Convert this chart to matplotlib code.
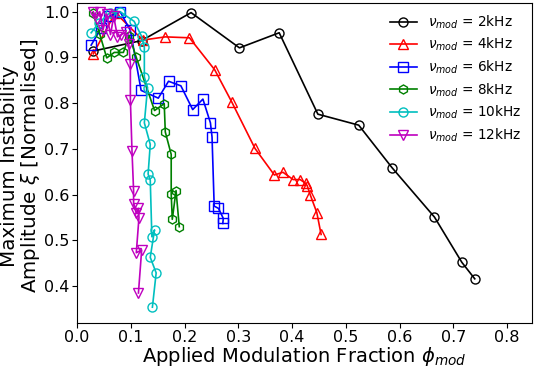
import matplotlib
matplotlib.use("Agg")
import matplotlib.pyplot as plt

# 2 kHz
x_2 = [0.030, 0.120, 0.212, 0.302, 0.376, 0.448, 0.524, 0.586, 0.665, 0.716, 0.740]
y_2 = [0.914, 0.937, 0.998, 0.921, 0.954, 0.776, 0.752, 0.659, 0.551, 0.452, 0.416]

# 4 kHz
x_4 = [0.030, 0.071, 0.122, 0.164, 0.209, 0.256, 0.288, 0.331, 0.367, 0.383, 0.402,
       0.415, 0.425, 0.428, 0.434, 0.446, 0.454]
y_4 = [0.908, 0.998, 0.938, 0.945, 0.943, 0.873, 0.802, 0.701, 0.643, 0.649, 0.633,
       0.633, 0.625, 0.620, 0.599, 0.561, 0.513]

# 6 kHz
x_6 = [0.026, 0.045, 0.060, 0.080, 0.099, 0.119, 0.151, 0.170, 0.193, 0.215, 0.234,
       0.248, 0.251, 0.255, 0.263, 0.272, 0.271]
y_6 = [0.927, 0.965, 0.990, 1.000, 0.959, 0.828, 0.811, 0.848, 0.838, 0.786, 0.809,
       0.757, 0.726, 0.575, 0.570, 0.548, 0.537]

# 8 kHz
x_8 = [0.029, 0.042, 0.055, 0.069, 0.086, 0.097, 0.110, 0.144, 0.162, 0.164, 0.175,
       0.175, 0.177, 0.184, 0.190]
y_8 = [0.998, 0.951, 0.899, 0.911, 0.911, 0.948, 0.900, 0.784, 0.799, 0.737, 0.688,
       0.601, 0.546, 0.609, 0.530]

# 10 kHz
x_10 = [0.026, 0.040, 0.061, 0.080, 0.106, 0.120, 0.125, 0.125, 0.131, 0.125, 0.136,
        0.132, 0.136, 0.139, 0.144, 0.136, 0.147, 0.140]
y_10 = [0.954, 0.975, 0.998, 1.000, 0.979, 0.946, 0.922, 0.857, 0.834, 0.757, 0.710,
        0.645, 0.632, 0.508, 0.523, 0.463, 0.429, 0.354]

# 12 kHz
x_12 = [0.030, 0.036, 0.042, 0.048, 0.055, 0.062, 0.068, 0.075, 0.082, 0.090, 0.096,
        0.099, 0.099, 0.102, 0.105, 0.105, 0.110, 0.114, 0.115, 0.110, 0.120, 0.114]
y_12 = [1.000, 0.985, 1.000, 0.960, 0.995, 0.950, 0.990, 0.945, 0.950, 0.955, 0.930,
        0.886, 0.808, 0.696, 0.609, 0.579, 0.559, 0.570, 0.550, 0.473, 0.479, 0.385]

series = [
    (x_2, y_2, 'k', 'o', r'$\nu_{mod}$ = 2kHz'),
    (x_4, y_4, 'r', '^', r'$\nu_{mod}$ = 4kHz'),
    (x_6, y_6, 'b', 's', r'$\nu_{mod}$ = 6kHz'),
    (x_8, y_8, 'g', 'h', r'$\nu_{mod}$ = 8kHz'),
    (x_10, y_10, 'c', 'o', r'$\nu_{mod}$ = 10kHz'),
    (x_12, y_12, 'm', 'v', r'$\nu_{mod}$ = 12kHz'),
]

fig, ax = plt.subplots(figsize=(5.36, 3.68), dpi=100)
for xs, ys, c, m, lab in series:
    ax.plot(xs, ys, color=c, marker=m, mfc='none', mec=c, ms=6.5, lw=1.2, label=lab)

ax.set_xlim(0, 0.847)
ax.set_ylim(0.32, 1.02)
ax.tick_params(labelsize=11.5, length=3.5, pad=2)
ax.set_xlabel(r'Applied Modulation Fraction $\phi_{mod}$', fontsize=14)
ax.xaxis.set_label_coords(0.5, -0.068)
ax.set_ylabel('Maximum Instability\n' + r'Amplitude $\xi$ [Normalised]', fontsize=14.3,
              linespacing=1.0)
ax.yaxis.set_label_coords(-0.077, 0.49)
ax.legend(loc='upper right', frameon=False, fontsize=9.8, handlelength=2,
          labelspacing=0.38, borderaxespad=0.4)

fig.subplots_adjust(left=0.144, right=0.993, bottom=0.123, top=0.993)
fig.savefig('out.png')
